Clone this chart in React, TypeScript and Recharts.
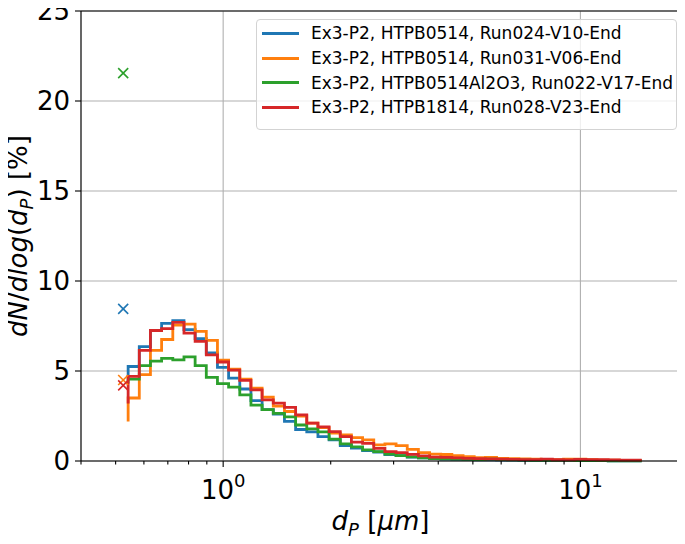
import React from "react";
import {
  ComposedChart,
  Line,
  Scatter,
  XAxis,
  YAxis,
  CartesianGrid,
  ReferenceLine,
} from "recharts";

// particle diameter (µm), log-spaced size channels
const diameters = [
  0.542, 0.5824, 0.6258, 0.6725, 0.7228, 0.7768, 0.8347, 0.897, 0.9638, 1.0357,
  1.113, 1.1961, 1.2853, 1.3813, 1.4844, 1.5952, 1.714, 1.842, 1.9793, 2.127,
  2.2856, 2.4562, 2.6395, 2.8365, 3.0479, 3.2754, 3.5197, 3.7823, 4.0644, 4.3677,
  4.6935, 5.0437, 5.42, 5.8244, 6.259, 6.726, 7.2277, 7.767, 8.3465, 8.9692,
  9.6383, 10.357, 11.13, 11.961, 12.853, 13.813, 14.844,
];

const run024 = [
  4.6, 5.25, 6.35, 7.25, 7.65, 7.8, 7.3, 6.8, 6.0, 5.2, 4.6, 4.0, 3.35, 2.85, 2.6,
  2.2, 1.75, 1.62, 1.35, 1.17, 0.85, 0.72, 0.58, 0.5, 0.36, 0.3, 0.22, 0.18, 0.14,
  0.11, 0.09, 0.08, 0.07, 0.06, 0.05, 0.05, 0.04, 0.04, 0.03, 0.03, 0.03, 0.02,
  0.02, 0.02, 0.01, 0.01, 0.01,
];
const run031 = [
  2.2, 3.5, 4.8, 6.15, 6.75, 7.55, 7.6, 7.2, 6.7, 5.6, 5.1, 4.55, 4.05, 3.55, 3.05,
  2.75, 2.5, 2.1, 1.85, 1.55, 1.45, 1.3, 1.17, 0.9, 0.95, 0.85, 0.65, 0.47, 0.38,
  0.36, 0.3, 0.24, 0.19, 0.2, 0.15, 0.13, 0.11, 0.1, 0.09, 0.08, 0.1, 0.1, 0.07,
  0.05, 0.05, 0.04, 0.04,
];
const run022 = [
  4.3, 4.55, 5.3, 5.55, 5.7, 5.62, 5.78, 5.3, 4.65, 4.3, 4.1, 3.67, 3.1, 2.85,
  2.65, 2.45, 2.0, 1.78, 1.62, 1.22, 0.95, 0.78, 0.62, 0.52, 0.38, 0.3, 0.23, 0.17,
  0.13, 0.12, 0.1, 0.09, 0.08, 0.1, 0.08, 0.06, 0.05, 0.04, 0.04, 0.03, 0.03, 0.02,
  0.02, 0.02, 0.01, 0.01, 0.01,
];
const run028 = [
  3.2, 4.7, 6.15, 7.25, 7.35, 7.7, 7.1, 6.65, 5.9, 5.5, 5.05, 4.48, 3.95, 3.4,
  3.22, 2.98, 2.56, 2.1, 1.9, 1.63, 1.35, 1.05, 0.98, 0.7, 0.52, 0.46, 0.37, 0.28,
  0.22, 0.2, 0.17, 0.15, 0.13, 0.12, 0.1, 0.09, 0.08, 0.08, 0.1, 0.07, 0.06, 0.09,
  0.08, 0.07, 0.06, 0.05, 0.05,
];

// isolated "x" markers (first, out-of-range channel)
const markerDiameter = 0.525;
const markerValues = [8.45, 4.5, 21.55, 4.2];

const seriesKeys = ["run024", "run031", "run022", "run028"];
const seriesLabels = [
  "Ex3-P2, HTPB0514, Run024-V10-End",
  "Ex3-P2, HTPB0514, Run031-V06-End",
  "Ex3-P2, HTPB0514Al2O3, Run022-V17-End",
  "Ex3-P2, HTPB1814, Run028-V23-End",
];
const seriesValues = [run024, run031, run022, run028];
const colors = ["#1f77b4", "#ff7f0e", "#2ca02c", "#d62728"];

const xDomain = [0.4, 19];
const xMajorTicks = [1, 10];
const xMinorTicks = [0.4, 0.5, 0.6, 0.7, 0.8, 0.9, 2, 3, 4, 5, 6, 7, 8, 9];
const yTicks = [0, 5, 10, 15, 20, 25];

const data = diameters.map((d, i) => {
  const row: any = { x: d };
  seriesKeys.forEach((k, j) => {
    row[k] = seriesValues[j][i];
  });
  return row;
});

const FONT = "DejaVu Sans, sans-serif";
const FS = 26;
const FS_SMALL = 18;

const XTick = (props: any) => {
  const { x, y, payload } = props;
  const v = payload.value;
  const major = xMajorTicks.includes(v);
  return (
    <g>
      <line x1={x} x2={x} y1={y} y2={y + (major ? 6 : 3.5)} stroke="#000" strokeWidth={1.1} />
      {major && (
        <text x={x} y={y + 38} textAnchor="middle" fontFamily={FONT} fontSize={FS} fill="#000">
          <tspan>10</tspan>
          <tspan fontSize={FS_SMALL} dy={-12}>{String(Math.round(Math.log10(v)))}</tspan>
        </text>
      )}
    </g>
  );
};

const XLabel = (props: any) => {
  const vb = props.viewBox;
  const cx = vb.x + vb.width / 2;
  const cy = vb.y + 69;
  return (
    <text x={cx} y={cy} textAnchor="middle" fontFamily={FONT} fontSize={FS} fill="#000">
      <tspan fontStyle="italic">d</tspan>
      <tspan fontStyle="italic" fontSize={FS_SMALL} dy={6}>P</tspan>
      <tspan dy={-6}> [</tspan>
      <tspan fontStyle="italic">μm</tspan>
      <tspan>]</tspan>
    </text>
  );
};

const YLabel = (props: any) => {
  const vb = props.viewBox;
  const cx = 27;
  const cy = vb.y + vb.height / 2;
  return (
    <text
      x={cx}
      y={cy}
      textAnchor="middle"
      transform={`rotate(-90, ${cx}, ${cy})`}
      fontFamily={FONT}
      fontSize={FS}
      fill="#000"
    >
      <tspan fontStyle="italic">dN</tspan>
      <tspan>/</tspan>
      <tspan fontStyle="italic">dlog</tspan>
      <tspan>(</tspan>
      <tspan fontStyle="italic">d</tspan>
      <tspan fontStyle="italic" fontSize={FS_SMALL} dy={6}>P</tspan>
      <tspan dy={-6}>) [%]</tspan>
    </text>
  );
};

const makeCross = (color: string) => (props: any) => {
  const { cx, cy } = props;
  const r = 5;
  return (
    <g stroke={color} strokeWidth={1.6}>
      <line x1={cx - r} y1={cy - r} x2={cx + r} y2={cy + r} />
      <line x1={cx - r} y1={cy + r} x2={cx + r} y2={cy - r} />
    </g>
  );
};

export default function App() {
  return (
    <div style={{ position: "relative", width: 685, height: 544, margin: "-8px 0 0 -8px" }}>
      <ComposedChart
        width={685}
        height={544}
        data={data}
        margin={{ top: 11, right: 5, bottom: 0, left: 0 }}
      >
        <CartesianGrid vertical={false} stroke="#b0b0b0" strokeWidth={1.1} />
        {xMajorTicks.map((t) => (
          <ReferenceLine key={"gx" + t} x={t} stroke="#b0b0b0" strokeWidth={1.1} />
        ))}
        <XAxis
          dataKey="x"
          type="number"
          scale="log"
          domain={xDomain}
          allowDataOverflow
          ticks={[...xMinorTicks, ...xMajorTicks].sort((a, b) => a - b)}
          interval={0}
          tick={<XTick />}
          tickLine={false}
          tickSize={0}
          tickMargin={0}
          height={83}
          axisLine={{ stroke: "#000", strokeWidth: 1.2 }}
          label={{ content: (p: any) => <XLabel {...p} /> }}
        />
        <YAxis
          type="number"
          domain={[0, 25]}
          ticks={yTicks}
          interval={0}
          width={81}
          tickSize={6}
          tickMargin={5}
          tick={{ fontSize: FS, fill: "#000", fontFamily: FONT }}
          tickLine={{ stroke: "#000", strokeWidth: 1.1 }}
          axisLine={{ stroke: "#000", strokeWidth: 1.2 }}
          label={{ content: (p: any) => <YLabel {...p} /> }}
        />
        <ReferenceLine y={25} stroke="#000" strokeWidth={1.2} />
        <ReferenceLine x={xDomain[1]} stroke="#000" strokeWidth={1.2} />
        {seriesKeys.map((k, j) => (
          <Line
            key={k}
            dataKey={k}
            type="stepBefore"
            stroke={colors[j]}
            strokeWidth={2.8}
            dot={false}
            activeDot={false}
            isAnimationActive={false}
          />
        ))}
        {markerValues.map((v, j) => (
          <Scatter
            key={"m" + j}
            data={[{ x: markerDiameter, y: v }]}
            dataKey="y"
            shape={makeCross(colors[j])}
            isAnimationActive={false}
          />
        ))}
      </ComposedChart>
      <div
        style={{
          position: "absolute",
          left: 256,
          top: 19,
          width: 419,
          height: 108,
          border: "1px solid #d3d3d3",
          borderRadius: 4,
          background: "rgba(255,255,255,0.8)",
          fontFamily: FONT,
          fontSize: 17,
          color: "#000",
          paddingTop: 1,
          boxSizing: "content-box",
        }}
      >
        {seriesLabels.map((lab, j) => (
          <div
            key={lab}
            style={{ display: "flex", alignItems: "center", height: 24.7, whiteSpace: "nowrap" }}
          >
            <div
              style={{
                marginLeft: 5,
                width: 37,
                height: 3,
                background: colors[j],
                marginRight: 12,
              }}
            />
            <span>{lab}</span>
          </div>
        ))}
      </div>
    </div>
  );
}
